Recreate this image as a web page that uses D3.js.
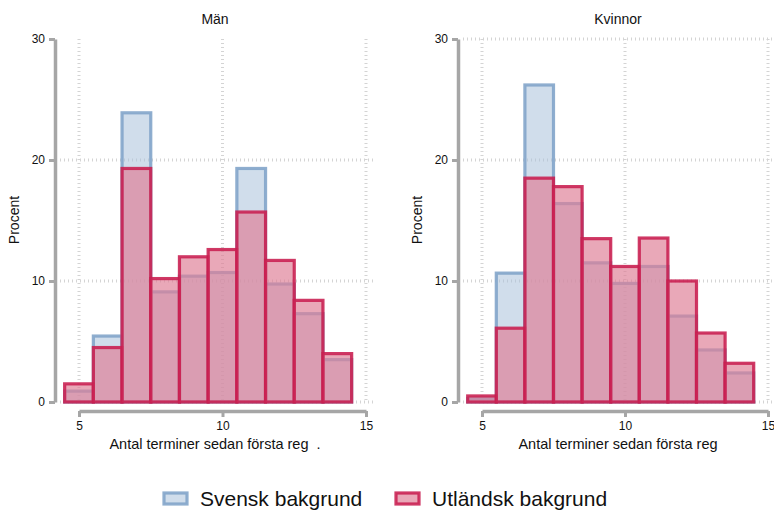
<!DOCTYPE html>
<html>
<head>
<meta charset="utf-8">
<script src="https://cdn.jsdelivr.net/npm/d3@7/dist/d3.min.js"></script>
<style>
  body { margin: 0; background: #fff; }
  svg { display: block; font-family: "Liberation Sans", Arial, sans-serif; }
  text { white-space: pre; }
</style>
</head>
<body>
<svg id="chart" width="774" height="511"></svg>
<script>
// Semesters since first registration (bin centres)
const bins = [5, 6, 7, 8, 9, 10, 11, 12, 13, 14];

// Percent per bin, men
const menSwedish = [0.9, 5.45, 23.9, 9.1, 10.4, 10.7, 19.3, 9.75, 7.3, 3.5];
const menForeign = [1.5, 4.5, 19.3, 10.2, 12.0, 12.6, 15.7, 11.7, 8.4, 4.0];

// Percent per bin, women
const womenSwedish = [0.3, 10.65, 26.2, 16.4, 11.5, 9.8, 11.2, 7.1, 4.3, 2.4];
const womenForeign = [0.5, 6.1, 18.5, 17.8, 13.5, 11.2, 13.55, 10.0, 5.7, 3.2];

const yTicks = [0, 10, 20, 30];
const xTicks = [5, 10, 15];
const legendLabels = ["Svensk bakgrund", "Utländsk bakgrund"];

// fill / outline styles of the two groups
const styles = [
  { fill: "#a9c1da", fillOpacity: 0.55, stroke: "#7fa3c8", strokeOpacity: 0.88 },
  { fill: "#df7f97", fillOpacity: 0.68, stroke: "#c81e50", strokeOpacity: 0.88 }
];
const axisGray = "#a6a6a6";
const gridGray = "#d4d4d4";
const textColour = "#111";

const svg = d3.select("#chart");

const panels = [
  { title: "Män", xTitle: "Antal terminer sedan första reg  .", swedish: menSwedish, foreign: menForeign,
    yAxisX: 55, xRange: [79, 366], gridRight: 376, centre: 215, yLabelX: 19, gridY: [0, 10, 20] },
  { title: "Kvinnor", xTitle: "Antal terminer sedan första reg", swedish: womenSwedish, foreign: womenForeign,
    yAxisX: 458, xRange: [482, 768], gridRight: 774, centre: 618, yLabelX: 422, gridY: [0, 10, 20, 30] }
];

const y = d3.scaleLinear().domain([0, 30]).range([402, 39]);
const xAxisY = 411;

function styleAxis(sel) {
  sel.select(".domain").attr("stroke", axisGray).attr("stroke-width", 3.5);
  sel.selectAll(".tick line").attr("stroke", axisGray).attr("stroke-width", 3);
  sel.selectAll(".tick text").attr("font-size", 12).attr("fill", textColour)
    .attr("font-family", "Liberation Sans, Arial, sans-serif");
}

panels.forEach(p => {
  const x = d3.scaleLinear().domain([5, 15]).range(p.xRange);
  const g = svg.append("g");

  // dotted grid
  g.selectAll(".hgrid").data(p.gridY).join("line")
    .attr("x1", p.yAxisX + 5).attr("x2", p.gridRight)
    .attr("y1", d => y(d)).attr("y2", d => y(d))
    .attr("stroke", gridGray).attr("stroke-width", 3).attr("stroke-dasharray", "1,3");
  g.selectAll(".vgrid").data(xTicks).join("line")
    .attr("x1", d => x(d)).attr("x2", d => x(d))
    .attr("y1", y(30)).attr("y2", y(0))
    .attr("stroke", gridGray).attr("stroke-width", 3).attr("stroke-dasharray", "1,3");

  // histogram bars: Swedish background underneath, foreign background on top
  const drawBars = (values, s) => {
    g.append("g").selectAll("rect").data(bins.map((b, i) => ({ b, v: values[i] }))).join("rect")
      .attr("x", d => x(d.b - 0.5))
      .attr("width", d => x(d.b + 0.5) - x(d.b - 0.5))
      .attr("y", d => y(d.v))
      .attr("height", d => y(0) - y(d.v))
      .attr("fill", s.fill).attr("fill-opacity", s.fillOpacity)
      .attr("stroke", s.stroke).attr("stroke-opacity", s.strokeOpacity).attr("stroke-width", 3.2);
  };
  drawBars(p.swedish, styles[0]);
  drawBars(p.foreign, styles[1]);

  // y axis
  const ya = g.append("g").attr("transform", `translate(${p.yAxisX},0)`)
    .call(d3.axisLeft(y).tickValues(yTicks).tickSize(6).tickPadding(4).tickSizeOuter(0));
  styleAxis(ya);

  // x axis
  const xa = g.append("g").attr("transform", `translate(0,${xAxisY})`)
    .call(d3.axisBottom(x).tickValues(xTicks).tickSize(6).tickPadding(4).tickSizeOuter(0));
  styleAxis(xa);

  // titles
  g.append("text").attr("x", p.centre).attr("y", 24).attr("text-anchor", "middle")
    .attr("font-size", 14).attr("fill", textColour).text(p.title);
  g.append("text").attr("x", p.centre).attr("y", 449).attr("text-anchor", "middle")
    .attr("font-size", 14.5).attr("fill", textColour).text(p.xTitle);
  g.append("text").attr("transform", `translate(${p.yLabelX},220) rotate(-90)`)
    .attr("text-anchor", "middle").attr("font-size", 14).attr("fill", textColour).text("Procent");
});

// legend
const legend = svg.append("g");
[164, 396].forEach((lx, i) => {
  const s = styles[i];
  legend.append("rect").attr("x", lx).attr("y", 493).attr("width", 23).attr("height", 11)
    .attr("fill", s.fill).attr("fill-opacity", s.fillOpacity)
    .attr("stroke", s.stroke).attr("stroke-opacity", s.strokeOpacity).attr("stroke-width", 3.2);
  legend.append("text").attr("x", lx + 36).attr("y", 506).attr("font-size", 21)
    .attr("fill", textColour).text(legendLabels[i]);
});
</script>
</body>
</html>
